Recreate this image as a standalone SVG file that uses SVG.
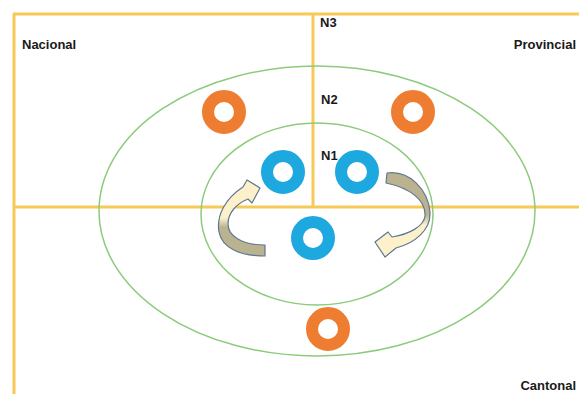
<svg xmlns="http://www.w3.org/2000/svg" width="579" height="394" viewBox="0 0 579 394">
  <defs>
    <style>
      .axis { stroke: #f7c957; stroke-width: 3; fill: none; }
      .orbit { stroke: #8ccb7c; stroke-width: 1.5; fill: none; }
      .ring-o { fill: none; stroke: #ee7d31; stroke-width: 12; }
      .ring-b { fill: none; stroke: #1ea8e0; stroke-width: 12; }
      .lbl { font-family: "Liberation Sans", Arial, sans-serif; font-weight: bold; font-size: 13px; fill: #1a1a1a; }
      .arrow { stroke: #5f7891; stroke-width: 1.2; stroke-linejoin: round; }
    </style>
    <linearGradient id="gLeft" x1="0" y1="0" x2="0" y2="1">
      <stop offset="0" stop-color="#fdf1cc"/>
      <stop offset="0.5" stop-color="#fdf1cc"/>
      <stop offset="0.62" stop-color="#bbb38f"/>
      <stop offset="1" stop-color="#bbb38f"/>
    </linearGradient>
    <linearGradient id="gRight" x1="0" y1="0" x2="0" y2="1">
      <stop offset="0" stop-color="#bbb38f"/>
      <stop offset="0.5" stop-color="#bbb38f"/>
      <stop offset="0.62" stop-color="#fdf1cc"/>
      <stop offset="1" stop-color="#fdf1cc"/>
    </linearGradient>
  </defs>
  <rect width="579" height="394" fill="#ffffff"/>

  <g id="connectors">
    <path class="axis" d="M13,14 H579 M14,14 V394 M313,14 V207 M14,207 H579"/>
    <ellipse id="orbit-outer" class="orbit" cx="317" cy="211" rx="218" ry="145"/>
    <ellipse id="orbit-inner" class="orbit" cx="317" cy="214" rx="116" ry="91"/>
    <path id="arrow-left" class="arrow" fill="url(#gLeft)" d="M265,256 C240,256 222,248 219,232 C216,215 226,198 243,187 L247,180 L260,188 L252,203 L248,199 C236,204 228,213 228,224 C228,236 242,245 265,245 Z"/>
    <path id="arrow-right" class="arrow" fill="url(#gRight)" d="M387,173 C410,170 428,190 430,212 C431,230 415,243 396,248 L385,257 L375,242 L388,232 L392,237 C410,234 424,226 425,216 C426,200 410,188 386,183 Z"/>
  </g>

  <g id="n-orange-left"><circle class="ring-o" cx="224" cy="112" r="16"/></g>
  <g id="n-orange-right"><circle class="ring-o" cx="413" cy="112" r="16"/></g>
  <g id="n-orange-bottom"><circle class="ring-o" cx="328" cy="329" r="16"/></g>
  <g id="n-blue-left"><circle class="ring-b" cx="283" cy="172" r="16"/></g>
  <g id="n-blue-right"><circle class="ring-b" cx="357" cy="172" r="16"/></g>
  <g id="n-blue-bottom"><circle class="ring-b" cx="313" cy="238" r="16"/></g>

  <g id="labels">
    <text class="lbl" x="22" y="49">Nacional</text>
    <text class="lbl" x="576" y="49" text-anchor="end">Provincial</text>
    <text class="lbl" x="320" y="27">N3</text>
    <text class="lbl" x="321" y="104">N2</text>
    <text class="lbl" x="321" y="160">N1</text>
    <text class="lbl" x="576" y="390" text-anchor="end">Cantonal</text>
  </g>
</svg>
